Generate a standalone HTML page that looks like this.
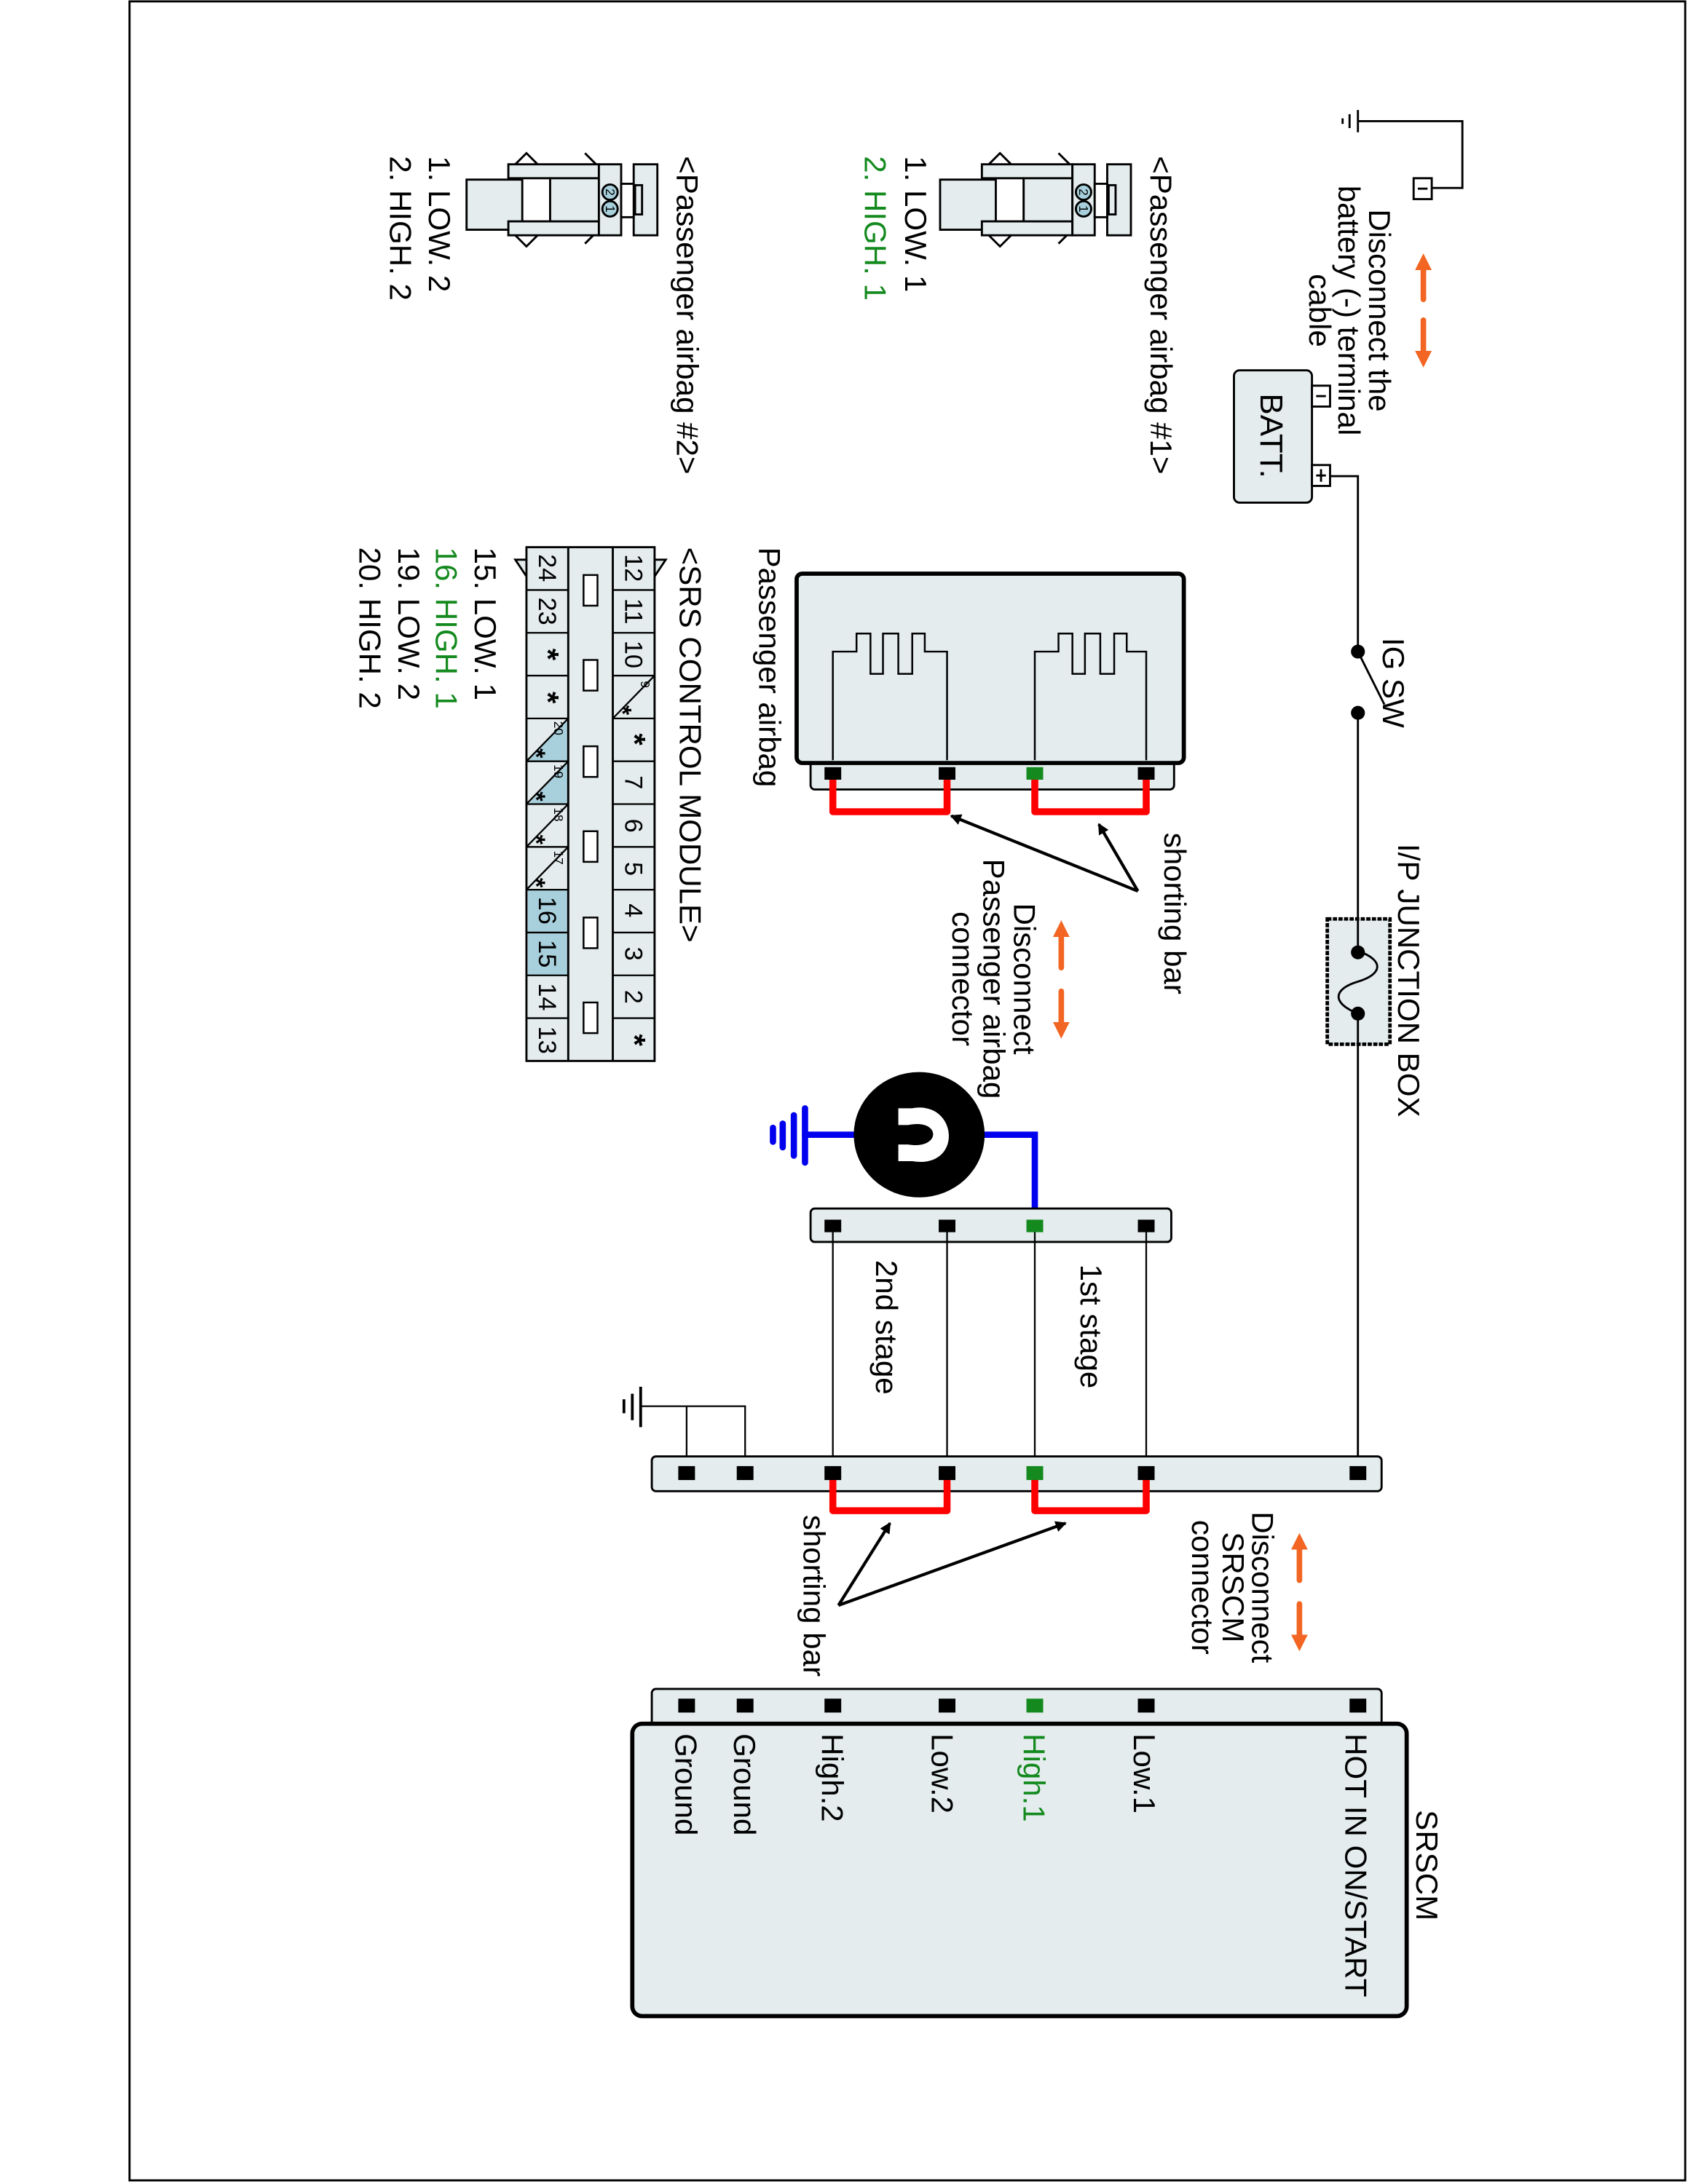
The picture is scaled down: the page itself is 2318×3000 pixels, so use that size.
<!DOCTYPE html>
<html><head><meta charset="utf-8"><style>
html,body{margin:0;padding:0;background:#fff}
svg{display:block}
text{font-family:"Liberation Sans",Arial,sans-serif;fill:#000}
.g{fill:#148a1e}
</style></head><body>
<svg width="2318" height="3000" viewBox="0 0 1212 1568.6" preserveAspectRatio="none" xmlns="http://www.w3.org/2000/svg">
<defs>
<marker id="ah" markerWidth="8" markerHeight="8" refX="7" refY="4" orient="auto" markerUnits="userSpaceOnUse"><path d="M0,0 L8,4 L0,8 z" fill="#000"/></marker>
<marker id="oa" markerWidth="12" markerHeight="12" refX="6" refY="6" orient="auto" markerUnits="userSpaceOnUse"><path d="M0,0 L12,6 L0,12 z" fill="#f26522"/></marker>
</defs>
<rect x="93" y="1" width="1117" height="1565" fill="none" stroke="#000" stroke-width="1.5"/>

<g stroke="#000" fill="none" stroke-width="1.5">
<line x1="975" y1="79" x2="975" y2="95"/><line x1="969" y1="82" x2="969" y2="92"/><line x1="964" y1="85" x2="964" y2="89"/>
<polyline points="975,87 1050,87 1050,135 1028,135"/>
<rect x="1015" y="128" width="13" height="15" fill="#fff"/>
<line x1="1018" y1="135.5" x2="1025" y2="135.5"/>
</g>
<g stroke="#f26522" stroke-width="4" stroke-linecap="round">
<line x1="1022" y1="215" x2="1022" y2="188" marker-end="url(#oa)"/>
<line x1="1022" y1="230" x2="1022" y2="258" marker-end="url(#oa)"/>
<line x1="762" y1="695" x2="762" y2="667" marker-end="url(#oa)"/>
<line x1="762" y1="712" x2="762" y2="740" marker-end="url(#oa)"/>
<line x1="933" y1="1135" x2="933" y2="1107" marker-end="url(#oa)"/>
<line x1="933" y1="1152" x2="933" y2="1180" marker-end="url(#oa)"/>
</g>
<g font-size="22">
<text transform="translate(983,223) rotate(90)" text-anchor="middle">Disconnect the</text>
<text transform="translate(961,223) rotate(90)" text-anchor="middle">battery (-) terminal</text>
<text transform="translate(940,223) rotate(90)" text-anchor="middle">cable</text>
</g>
<g stroke="#000" stroke-width="1.5">
<rect x="886" y="266" width="56" height="95" rx="4" fill="#e4eced"/>
<rect x="942" y="277" width="13" height="15" fill="#fff"/>
<rect x="942" y="334" width="13" height="15" fill="#fff"/>
<line x1="945" y1="284.5" x2="952" y2="284.5"/>
<line x1="945" y1="341.5" x2="952" y2="341.5"/><line x1="948.5" y1="337" x2="948.5" y2="346"/>
<polyline points="955,342 975,342 975,468" fill="none"/>
<line x1="975" y1="468" x2="994" y2="506" stroke-width="1.5"/>
<line x1="975" y1="512" x2="975" y2="660" fill="none"/>
<rect x="953" y="660" width="45" height="90" fill="#e4eced" stroke-width="2.5" stroke-dasharray="3,1"/>
<line x1="975" y1="660" x2="975" y2="683"/>
<path d="M975,683 C995,690 992,700 975,705 C958,710 955,720 975,728" fill="none"/>
<line x1="975" y1="728" x2="975" y2="1058"/>
</g>
<circle cx="975" cy="468" r="5" fill="#000"/><circle cx="975" cy="512" r="5" fill="#000"/>
<circle cx="975" cy="684" r="5" fill="#000"/><circle cx="975" cy="728" r="5" fill="#000"/>
<text transform="translate(905,313) rotate(90)" text-anchor="middle" font-size="23">BATT.</text>
<text transform="translate(993,458) rotate(90)" font-size="22">IG SW</text>
<text transform="translate(1004,606) rotate(90)" font-size="22">I/P JUNCTION BOX</text>

<g stroke="#000">
<rect x="582" y="545" width="261" height="22" rx="3" fill="#e4eced" stroke-width="1.5"/>
<rect x="572" y="412" width="278" height="136" rx="4" fill="#e4eced" stroke-width="3"/>
<path d="M598,546 V468 H615 V455 H625 V484 H634 V455 H645 V484 H655 V455 H664 V468 H680 V546" fill="none" stroke-width="1.3"/>
<path d="M743,546 V468 H760 V455 H770 V484 H779 V455 H790 V484 H800 V455 H809 V468 H823 V546" fill="none" stroke-width="1.3"/>
</g>
<g fill="#000"><rect x="592" y="551" width="12" height="9"/><rect x="674" y="551" width="12" height="9"/><rect x="817" y="551" width="12" height="9"/></g>
<rect x="737" y="551" width="12" height="9" fill="#148a1e"/>
<g stroke="#ff0000" stroke-width="5" fill="none" stroke-linejoin="round">
<polyline points="598,560 598,583 680,583 680,560"/>
<polyline points="743,560 743,583 823,583 823,560"/>
</g>
<g stroke="#000" stroke-width="2.2">
<line x1="817" y1="640" x2="683" y2="586" marker-end="url(#ah)"/>
<line x1="817" y1="640" x2="789" y2="592" marker-end="url(#ah)"/>
</g>
<text transform="translate(836,598) rotate(90)" font-size="22">shorting bar</text>
<g font-size="22">
<text transform="translate(728,703) rotate(90)" text-anchor="middle">Disconnect</text>
<text transform="translate(706,703) rotate(90)" text-anchor="middle">Passenger airbag</text>
<text transform="translate(684,703) rotate(90)" text-anchor="middle">connector</text>
</g>
<text transform="translate(545,393) rotate(90)" font-size="22">Passenger airbag</text>

<g stroke="#0000ee" stroke-width="4.5" fill="none" stroke-linecap="round">
<polyline points="700,815 743,815 743,880"/>
<line x1="620" y1="815" x2="578" y2="815"/>
<line x1="578" y1="796" x2="578" y2="835"/><line x1="570" y1="801" x2="570" y2="830"/><line x1="562" y1="807" x2="562" y2="824"/><line x1="555" y1="810" x2="555" y2="820"/>
</g>
<ellipse cx="660" cy="815" rx="47" ry="45" fill="#000"/>
<path d="M645,796 H655 C688,790 692,840 655,834 H645 V822 H652 C676,826 676,803 652,808 H645 z" fill="#fff"/>

<rect x="582" y="868" width="259" height="24" rx="3" fill="#e4eced" stroke="#000" stroke-width="1.5"/>
<g stroke="#000" stroke-width="1.2">
<line x1="598" y1="880" x2="598" y2="1058"/><line x1="680" y1="880" x2="680" y2="1058"/>
<line x1="743" y1="880" x2="743" y2="1058"/><line x1="823" y1="880" x2="823" y2="1058"/>
</g>
<g fill="#000"><rect x="592" y="876" width="12" height="9"/><rect x="674" y="876" width="12" height="9"/><rect x="817" y="876" width="12" height="9"/></g>
<rect x="737" y="876" width="12" height="9" fill="#148a1e"/>
<text transform="translate(776,908) rotate(90)" font-size="22">1st stage</text>
<text transform="translate(629,905) rotate(90)" font-size="22">2nd stage</text>

<g stroke="#000" stroke-width="1.2" fill="none">
<polyline points="493,1058 493,1010 535,1010 535,1058"/>
<line x1="460" y1="1010" x2="493" y2="1010"/>
<line x1="460" y1="996" x2="460" y2="1025" stroke-width="2"/><line x1="454" y1="1001" x2="454" y2="1020" stroke-width="2"/><line x1="448" y1="1005" x2="448" y2="1015" stroke-width="2"/>
</g>
<rect x="468" y="1046" width="524" height="25" rx="3" fill="#e4eced" stroke="#000" stroke-width="1.5"/>
<g fill="#000">
<rect x="487" y="1053" width="12" height="10"/><rect x="529" y="1053" width="12" height="10"/><rect x="592" y="1053" width="12" height="10"/><rect x="674" y="1053" width="12" height="10"/><rect x="817" y="1053" width="12" height="10"/><rect x="969" y="1053" width="12" height="10"/>
</g>
<rect x="737" y="1053" width="12" height="10" fill="#148a1e"/>
<g stroke="#ff0000" stroke-width="5" fill="none" stroke-linejoin="round">
<polyline points="598,1063 598,1085 680,1085 680,1063"/>
<polyline points="743,1063 743,1085 823,1085 823,1063"/>
</g>
<g stroke="#000" stroke-width="2.2">
<line x1="602" y1="1153" x2="639" y2="1094" marker-end="url(#ah)"/>
<line x1="602" y1="1153" x2="765" y2="1094" marker-end="url(#ah)"/>
</g>
<text transform="translate(577,1088) rotate(90)" font-size="22">shorting bar</text>
<g font-size="22">
<text transform="translate(899,1140) rotate(90)" text-anchor="middle">Disconnect</text>
<text transform="translate(878,1140) rotate(90)" text-anchor="middle">SRSCM</text>
<text transform="translate(856,1140) rotate(90)" text-anchor="middle">connector</text>
</g>

<rect x="468" y="1213" width="524" height="28" rx="3" fill="#e4eced" stroke="#000" stroke-width="1.5"/>
<rect x="454" y="1238" width="556" height="210" rx="7" fill="#e4eced" stroke="#000" stroke-width="3"/>
<g fill="#000">
<rect x="487" y="1220" width="12" height="10"/><rect x="529" y="1220" width="12" height="10"/><rect x="592" y="1220" width="12" height="10"/><rect x="674" y="1220" width="12" height="10"/><rect x="817" y="1220" width="12" height="10"/><rect x="969" y="1220" width="12" height="10"/>
</g>
<rect x="737" y="1220" width="12" height="10" fill="#148a1e"/>
<g font-size="22">
<text transform="translate(1017,1300) rotate(90)">SRSCM</text>
<text transform="translate(966,1245) rotate(90)">HOT IN ON/START</text>
<text transform="translate(814,1245) rotate(90)">Low.1</text>
<text transform="translate(735,1245) rotate(90)" class="g">High.1</text>
<text transform="translate(669,1245) rotate(90)">Low.2</text>
<text transform="translate(590,1245) rotate(90)">High.2</text>
<text transform="translate(527,1245) rotate(90)">Ground</text>
<text transform="translate(485,1245) rotate(90)">Ground</text>
</g>

<g id="pc1" stroke="#000" stroke-width="1.5" fill="#e4eced">
<path d="M760,110 L768,118 L760,126 M760,175 L768,167 L760,160" fill="none"/>
<path d="M710,118 L718,110 L726,118 M710,169 L718,177 L726,169" fill="none"/>
<rect x="675" y="129" width="40" height="36"/>
<path d="M705,118 H770 V169 H705 V159 H735 V128 H705 z"/>
<rect x="735" y="128" width="35" height="31"/>
<rect x="770" y="118" width="16" height="51"/>
<rect x="795" y="118" width="17" height="51"/>
<rect x="786" y="132" width="9" height="24" fill="#fff"/>
<rect x="796" y="133" width="5" height="21"/>
<circle cx="778" cy="138" r="5.5" fill="#a8d0dc"/><circle cx="778" cy="150" r="5.5" fill="#a8d0dc"/>
</g>
<text transform="translate(775,138) rotate(90)" text-anchor="middle" font-size="9">2</text>
<text transform="translate(775,150) rotate(90)" text-anchor="middle" font-size="9">1</text>
<g transform="translate(-340,0)">
<use href="#pc1"/>
<text transform="translate(775,138) rotate(90)" text-anchor="middle" font-size="9">2</text>
<text transform="translate(775,150) rotate(90)" text-anchor="middle" font-size="9">1</text>
</g>
<g font-size="22">
<text transform="translate(826,112) rotate(90)">&lt;Passenger airbag #1&gt;</text>
<text transform="translate(650,112) rotate(90)">1. LOW. 1</text>
<text transform="translate(621,112) rotate(90)" class="g">2. HIGH. 1</text>
<text transform="translate(486,112) rotate(90)">&lt;Passenger airbag #2&gt;</text>
<text transform="translate(308,112) rotate(90)">1. LOW. 2</text>
<text transform="translate(280,112) rotate(90)">2. HIGH. 2</text>
<text transform="translate(488,393) rotate(90)">&lt;SRS CONTROL MODULE&gt;</text>
<text transform="translate(341,393) rotate(90)">15. LOW. 1</text>
<text transform="translate(313,393) rotate(90)" class="g">16. HIGH. 1</text>
<text transform="translate(286,393) rotate(90)">19. LOW. 2</text>
<text transform="translate(258,393) rotate(90)">20. HIGH. 2</text>
</g>

<g stroke="#000" stroke-width="1.5">
<path d="M470,402 L478,402 L470,414 z" fill="#e4eced"/>
<path d="M378,402 L370,402 L378,414 z" fill="#e4eced"/>
<rect x="378" y="393" width="92" height="369" fill="#e4eced"/>
<rect x="379" y="639" width="29" height="61.5" fill="#a8d0dc" stroke="none"/>
<path d="M408,516 L379,547 L408,547 z" fill="#a8d0dc" stroke="none"/>
<path d="M408,547 L379,578 L408,578 z" fill="#a8d0dc" stroke="none"/>
<line x1="408" y1="393" x2="408" y2="762"/><line x1="440" y1="393" x2="440" y2="762"/>
</g>
<g stroke="#000" stroke-width="1.2">
<line x1="378" y1="423.75" x2="408" y2="423.75"/><line x1="440" y1="423.75" x2="470" y2="423.75"/>
<line x1="378" y1="454.5" x2="408" y2="454.5"/><line x1="440" y1="454.5" x2="470" y2="454.5"/>
<line x1="378" y1="485.25" x2="408" y2="485.25"/><line x1="440" y1="485.25" x2="470" y2="485.25"/>
<line x1="378" y1="516" x2="408" y2="516"/><line x1="440" y1="516" x2="470" y2="516"/>
<line x1="378" y1="546.75" x2="408" y2="546.75"/><line x1="440" y1="546.75" x2="470" y2="546.75"/>
<line x1="378" y1="577.5" x2="408" y2="577.5"/><line x1="440" y1="577.5" x2="470" y2="577.5"/>
<line x1="378" y1="608.25" x2="408" y2="608.25"/><line x1="440" y1="608.25" x2="470" y2="608.25"/>
<line x1="378" y1="639" x2="408" y2="639"/><line x1="440" y1="639" x2="470" y2="639"/>
<line x1="378" y1="669.75" x2="408" y2="669.75"/><line x1="440" y1="669.75" x2="470" y2="669.75"/>
<line x1="378" y1="700.5" x2="408" y2="700.5"/><line x1="440" y1="700.5" x2="470" y2="700.5"/>
<line x1="378" y1="731.25" x2="408" y2="731.25"/><line x1="440" y1="731.25" x2="470" y2="731.25"/>
<line x1="470" y1="485.25" x2="440" y2="516"/>
<line x1="408" y1="516" x2="378" y2="546.75"/>
<line x1="408" y1="546.75" x2="378" y2="577.5"/>
<line x1="408" y1="577.5" x2="378" y2="608.25"/>
<line x1="408" y1="608.25" x2="378" y2="639"/>
</g>
<g stroke="#000" stroke-width="1.3" fill="#fff">
<rect x="419" y="413" width="10" height="22"/><rect x="419" y="474" width="10" height="22"/>
<rect x="419" y="536" width="10" height="22"/><rect x="419" y="597" width="10" height="22"/>
<rect x="419" y="659" width="10" height="22"/><rect x="419" y="720" width="10" height="22"/>
</g>
<g font-size="18" text-anchor="middle">
<text transform="translate(449,408) rotate(90)">12</text>
<text transform="translate(449,439) rotate(90)">11</text>
<text transform="translate(449,470) rotate(90)">10</text>
<text transform="translate(449,562) rotate(90)">7</text>
<text transform="translate(449,593) rotate(90)">6</text>
<text transform="translate(449,624) rotate(90)">5</text>
<text transform="translate(449,654) rotate(90)">4</text>
<text transform="translate(449,685) rotate(90)">3</text>
<text transform="translate(449,716) rotate(90)">2</text>
<text transform="translate(387,408) rotate(90)">24</text>
<text transform="translate(387,439) rotate(90)">23</text>
<text transform="translate(387,654) rotate(90)">16</text>
<text transform="translate(387,685) rotate(90)">15</text>
<text transform="translate(387,716) rotate(90)">14</text>
<text transform="translate(387,747) rotate(90)">13</text>
</g>
<g font-size="22" font-weight="bold" text-anchor="middle">
<text transform="translate(448,531) rotate(90)">*</text>
<text transform="translate(448,747) rotate(90)">*</text>
<text transform="translate(386,470) rotate(90)">*</text>
<text transform="translate(386,501) rotate(90)">*</text>
</g>
<g font-size="18" font-weight="bold" text-anchor="middle">
<text transform="translate(441,510) rotate(90)">*</text>
<text transform="translate(379,541) rotate(90)">*</text>
<text transform="translate(379,572) rotate(90)">*</text>
<text transform="translate(379,603) rotate(90)">*</text>
<text transform="translate(379,634) rotate(90)">*</text>
</g>
<g font-size="9">
<text transform="translate(460,489) rotate(90)">9</text>
<text transform="translate(398,518) rotate(90)">20</text>
<text transform="translate(398,549) rotate(90)">19</text>
<text transform="translate(398,580) rotate(90)">18</text>
<text transform="translate(398,611) rotate(90)">17</text>
</g>
</svg>
</body></html>
